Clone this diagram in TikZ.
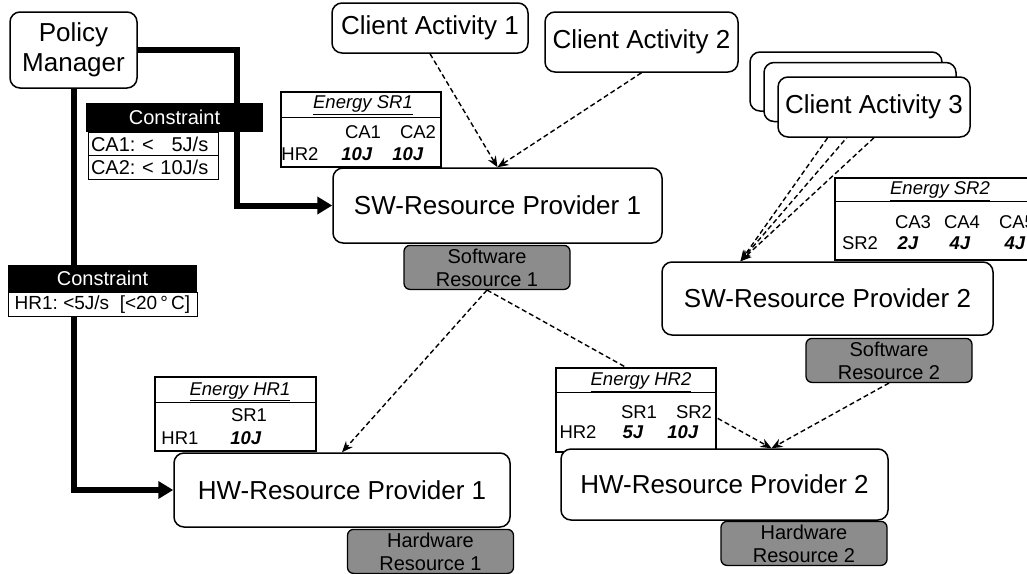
\documentclass[tikz,border=0pt]{standalone}
\usepackage{fontspec}
\setmainfont{Liberation Sans}
\usepackage{tikz}
\usetikzlibrary{positioning, arrows.meta}
\frenchspacing
\newcommand{\boxfont}{\fontsize{26}{30}\selectfont}
\newcommand{\labelfont}{\fontsize{20}{23}\selectfont}
\newcommand{\cellfont}{\fontsize{18.5}{21}\selectfont}
\pgfdeclarelayer{background}
\pgfsetlayers{background,main}
\tikzstyle{actor} = [rectangle, rounded corners = 10pt, draw = black,
  line width = 1.5pt, fill = white, inner sep = 0pt, align = center,
  font = \boxfont]
\tikzstyle{resource} = [rectangle, rounded corners = 6pt, draw = black,
  line width = 1.3pt, fill = black!45, minimum width = 166pt,
  minimum height = 44pt, inner sep = 0pt, align = center, font = \labelfont]
\tikzstyle{header} = [rectangle, fill = black, text = white, inner sep = 0pt,
  font = \labelfont]
\tikzstyle{limit} = [rectangle, draw = black, line width = 1pt, fill = white,
  inner xsep = 3pt, inner ysep = 0pt, align = left, font = \labelfont]
\tikzstyle{etable} = [rectangle, draw = black, line width = 1.2pt,
  fill = white, inner sep = 0pt]
\tikzstyle{cell} = [inner sep = 0pt, font = \cellfont]
\tikzstyle{feed} = [line width = 6pt, -{Triangle[length = 15pt, width = 17pt]}]
\tikzstyle{uses} = [line width = 1.4pt, dash pattern = on 5pt off 3pt,
  -{Stealth[length = 11pt, width = 9pt]}]

\begin{document}
\begin{tikzpicture}[x = 1pt, y = -1pt]
  \useasboundingbox (0,0) rectangle (1027,573);
  \clip (0,0) rectangle (1027,573);

  % energy tables
  \node (esr1) [etable, minimum width = 160pt, minimum height = 75pt] at (361,129.5) {};
  \draw [line width = 1.2pt] ([yshift = -26pt]esr1.north west) -- ([yshift = -26pt]esr1.north east);
  \node (esr1-title) [cell] at (363,105) {\underline{\textit{Energy SR1}}};
  \node (esr1-ca1) [cell] at (363,132) {CA1};
  \node (esr1-ca2) [cell] at (418,132) {CA2};
  \node (esr1-hr2) [cell] at (300,154) {HR2};
  \node (esr1-v1) [cell] at (357,154) {\textbf{\textit{10J}}};
  \node (esr1-v2) [cell] at (408,154) {\textbf{\textit{10J}}};

  \node (esr2) [etable, minimum width = 210pt, minimum height = 82pt] at (940,219) {};
  \draw [line width = 1.2pt] ([yshift = -24pt]esr2.north west) -- ([yshift = -24pt]esr2.north east);
  \node (esr2-title) [cell] at (940,191) {\underline{\textit{Energy SR2}}};
  \node (esr2-ca3) [cell] at (913,222) {CA3};
  \node (esr2-ca4) [cell] at (962,222) {CA4};
  \node (esr2-ca5) [cell] at (1017,222) {CA5};
  \node (esr2-sr2) [cell] at (860,243) {SR2};
  \node (esr2-v1) [cell] at (908,243) {\textbf{\textit{2J}}};
  \node (esr2-v2) [cell] at (960,243) {\textbf{\textit{4J}}};
  \node (esr2-v3) [cell] at (1015,243) {\textbf{\textit{4J}}};

  \node (ehr1) [etable, minimum width = 161pt, minimum height = 74pt] at (235.5,414) {};
  \draw [line width = 1.2pt] ([yshift = -26pt]ehr1.north west) -- ([yshift = -26pt]ehr1.north east);
  \node (ehr1-title) [cell] at (240,392) {\underline{\textit{Energy HR1}}};
  \node (ehr1-sr1) [cell] at (249,415) {SR1};
  \node (ehr1-hr1) [cell] at (180,438) {HR1};
  \node (ehr1-v1) [cell] at (246,438) {\textbf{\textit{10J}}};

  \node (ehr2) [etable, minimum width = 160pt, minimum height = 84pt] at (636,410) {};
  \draw [line width = 1.2pt] ([yshift = -25pt]ehr2.north west) -- ([yshift = -25pt]ehr2.north east);
  \node (ehr2-title) [cell] at (641,382) {\underline{\textit{Energy HR2}}};
  \node (ehr2-sr1) [cell] at (639,412) {SR1};
  \node (ehr2-sr2) [cell] at (694,412) {SR2};
  \node (ehr2-hr2) [cell] at (578,432) {HR2};
  \node (ehr2-v1) [cell] at (633,432) {\textbf{\textit{5J}}};
  \node (ehr2-v2) [cell] at (683,432) {\textbf{\textit{10J}}};

  % actors and providers
  \node (pm) [actor, minimum width = 127pt, minimum height = 76pt] at (73.5,50) {Policy\\Manager};
  \node (ca1) [actor, minimum width = 196pt, minimum height = 50pt] at (430,28) {Client Activity 1};
  \node (ca2) [actor, minimum width = 193pt, minimum height = 60pt] at (641.5,42) {Client Activity 2};
  \node (ca3a) [actor, minimum width = 192pt, minimum height = 59pt] at (846,81.5) {};
  \node (ca3b) [actor, minimum width = 192pt, minimum height = 59pt] at (860,92) {};
  \node (ca3) [actor, minimum width = 192pt, minimum height = 60pt] at (874,107) {Client Activity 3};

  \node (sw1) [actor, minimum width = 329pt, minimum height = 75pt] at (497.5,205.5) {SW-Resource Provider 1};
  \node (sw2) [actor, minimum width = 331pt, minimum height = 73pt] at (827.5,298.5) {SW-Resource Provider 2};
  \node (hw1) [actor, minimum width = 336pt, minimum height = 74pt] at (342,490) {HW-Resource Provider 1};
  \node (hw2) [actor, minimum width = 327pt, minimum height = 71pt] at (724.5,484.5) {HW-Resource Provider 2};

  \node (swr1) [resource, below = 1pt of sw1, xshift = -10.5pt] {Software\\Resource 1};
  \node (swr2) [resource, below = 2pt of sw2, xshift = 61.5pt] {Software\\Resource 2};
  \node (hwr1) [resource, below = 1pt of hw1, xshift = 88.5pt] {Hardware\\Resource 1};
  \node (hwr2) [resource, below = 0pt of hw2, xshift = 79.5pt] {Hardware\\Resource 2};

  % constraints
  \node (sw-con) [header, minimum width = 177pt, minimum height = 29pt] at (174.5,117.5) {Constraint};
  \node (ca1-lim) [limit, text width = 124pt, minimum height = 23.5pt] at (153,144) {CA1: < \phantom{1}5J/s};
  \node (ca2-lim) [limit, text width = 124pt, minimum height = 23.5pt] at (153,167.5) {CA2: < 10J/s};
  \node (hw-con) [header, minimum width = 189pt, minimum height = 27pt] at (102.5,278.5) {Constraint};
  \node (hr1-lim) [limit, minimum width = 189pt, minimum height = 24pt, inner xsep = 0pt,
    font = \fontsize{19}{23}\selectfont, below = 0pt of hw-con] {HR1: <5J/s\ \ [<20\,°\,C]};

  \begin{pgfonlayer}{background}
    \draw [feed] (pm.east) -- ++(99,0) |- (sw1.west);
    \draw [feed] (pm.south) |- (hw1.west);
    \draw [uses] (ca1.south) -- (sw1.north);
    \draw [uses] (ca2.south) -- (sw1.north);
    \foreach \client in {ca3a, ca3b, ca3}
      \draw [uses] (\client.south) -- ([xshift = -87pt]sw2.north);
    \draw [uses] (swr1.south) -- (hw1.north);
    \draw [uses] (swr1.south) -- ([xshift = 47pt]hw2.north);
    \draw [uses] (swr2.south) -- ([xshift = 47pt]hw2.north);
  \end{pgfonlayer}
\end{tikzpicture}
\end{document}
